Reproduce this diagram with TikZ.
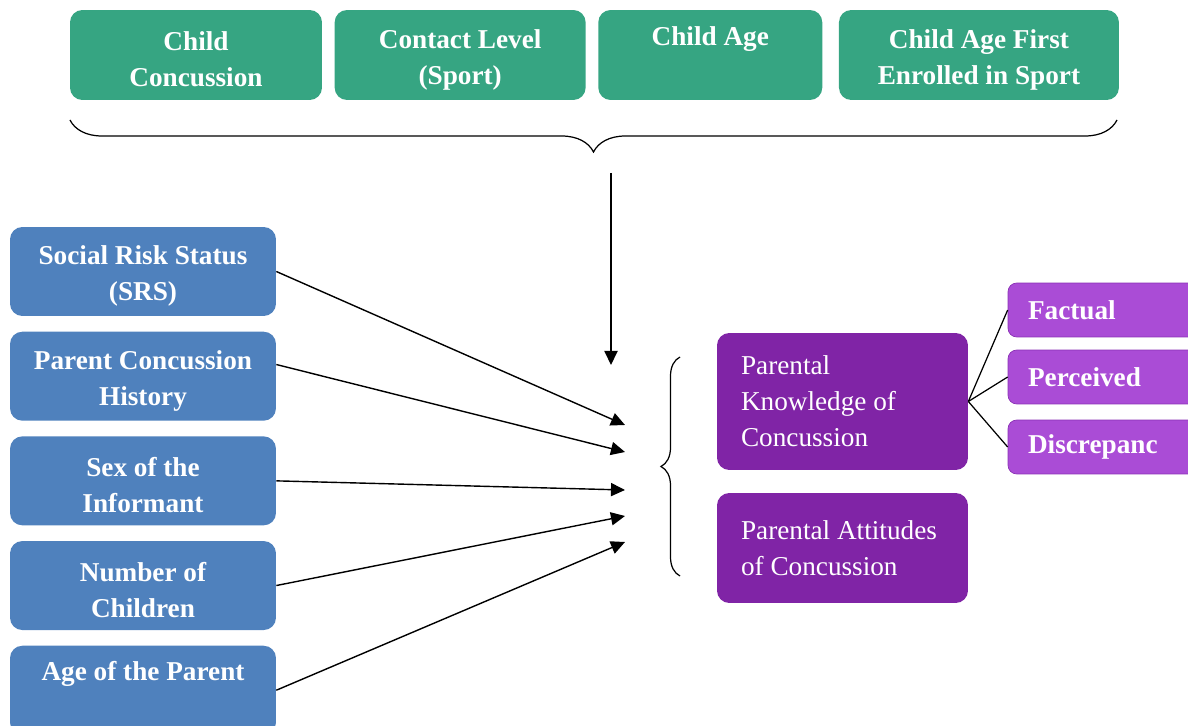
\documentclass[tikz,border=0pt]{standalone}
\usepackage{fontspec}
\setmainfont{Liberation Serif}
\usepackage{xcolor}
\usetikzlibrary{arrows.meta,positioning,decorations.pathreplacing}
\definecolor{childgreen}{RGB}{54,165,130}
\definecolor{parentblue}{RGB}{79,129,189}
\definecolor{outcomepurple}{RGB}{128,36,166}
\definecolor{facetpurple}{RGB}{170,76,214}
\definecolor{facetedge}{RGB}{138,48,180}

\begin{document}
\begin{tikzpicture}[
		x=0.02cm,y=-0.02cm,
		card/.style={rounded corners=7pt,text=white,inner sep=0pt,align=flush center,font=\fontsize{15.5}{20.4}\selectfont\bfseries,execute at begin node={\rule{0pt}{16pt}}},
		childbox/.style={card,fill=childgreen,minimum height=1.8cm},
		parentbox/.style={card,fill=parentblue,text width=5.32cm,minimum height=1.78cm},
		outcome/.style={rounded corners=7pt,fill=outcomepurple,text=white,inner xsep=0.48cm,inner ysep=0pt,text width=4.06cm,align=flush left,font=\fontsize{15.5}{20.4}\selectfont},
		facet/.style={rounded corners=5pt,fill=facetpurple,draw=facetedge,thin,text=white,inner xsep=0.4cm,inner ysep=0pt,text width=3.2cm,align=flush left,minimum height=1.08cm,font=\fontsize{15.5}{20.4}\selectfont\bfseries},
		arrow/.style={-{Triangle[length=8pt,width=7.5pt]},line width=0.8pt},
		brace/.style={decorate,line width=0.7pt}
		]
		\useasboundingbox (0,0) rectangle (1188,726);
		\clip (0,0) rectangle (1188,726);
		% child factors
		\node[childbox,text width=5.04cm] (childconc) at (196,55) {Child\\Concussion};
		\node[childbox,text width=5.02cm,right=0.24cm of childconc] (contact) {Contact Level\\(Sport)};
		\node[childbox,text width=4.48cm,right=0.24cm of contact] (childage) {Child Age\\\strut};
		\node[childbox,text width=5.6cm,right=0.32cm of childage] (firstage) {Child Age First\\Enrolled in Sport};
		\draw[brace,decoration={brace,amplitude=0.64cm}] (1117,120) -- (70,120);
		\coordinate (childfrom) at (611,173);
		\coordinate (childto) at (611,365);
		\draw[arrow] (childfrom)--(childto);
		% parent factors
		\node[parentbox] (srs) at (143,271.5) {Social Risk Status\\(SRS)};
		\node[parentbox,below=0.3cm of srs] (history) {Parent Concussion\\History};
		\node[parentbox,below=0.3cm of history] (informant) {Sex of the\\Informant};
		\node[parentbox,below=0.3cm of informant] (children) {Number of\\Children};
		\node[parentbox,below=0.3cm of children] (parentage) {Age of the Parent\\\strut};
		\coordinate (srsto) at (625,425);
		\coordinate (historyto) at (625,452);
		\coordinate (informantto) at (625,490);
		\coordinate (childrento) at (625,516);
		\coordinate (parentageto) at (625,542);
		\draw[arrow] (srs.east)--(srsto);
		\draw[arrow] (history.5)--(historyto);
		\draw[arrow] (informant.east)--(informantto);
		\draw[arrow] (children.east)--(childrento);
		\draw[arrow] (parentage.east)--(parentageto);
		% outcomes
		\draw[brace,decoration={brace,amplitude=0.38cm}] (680,576) -- (680,357);
		\node[outcome,minimum height=2.74cm] (knowledge) at (842.5,401.5) {Parental\\Knowledge of\\Concussion};
		\node[outcome,minimum height=2.2cm] (attitudes) at (842.5,548) {Parental Attitudes\\of Concussion};
		\node[facet] (factual) at (1108,310) {Factual};
		\node[facet] (perceived) at (1108,377) {Perceived};
		\node[facet] (discrepancy) at (1108,447) {Discrepanc};
		\draw[line width=0.7pt] (knowledge.east)--(factual.west);
		\draw[line width=0.7pt] (knowledge.east)--(perceived.west);
		\draw[line width=0.7pt] (knowledge.east)--(discrepancy.west);
	\end{tikzpicture}
\end{document}
